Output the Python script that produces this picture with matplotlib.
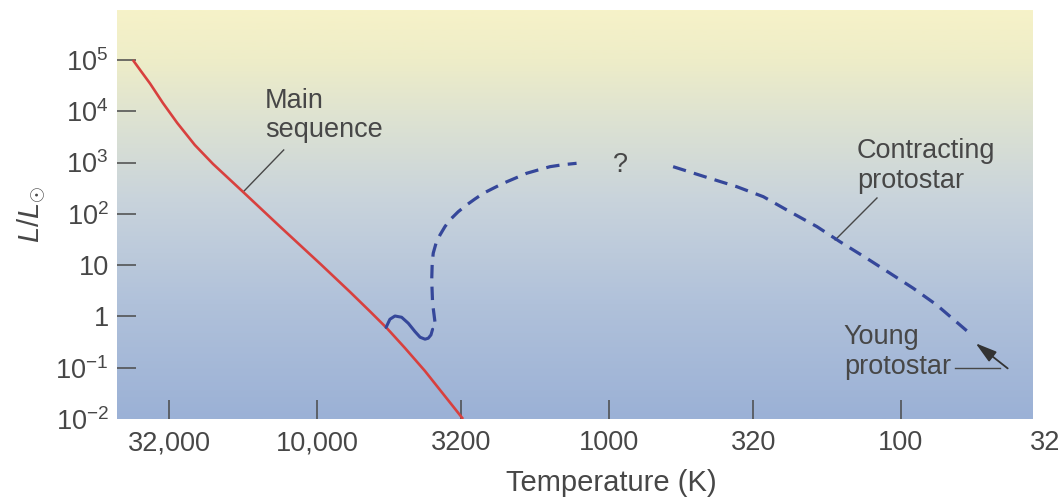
import numpy as np
import matplotlib
matplotlib.use("Agg")
import matplotlib.pyplot as plt
from matplotlib.colors import LinearSegmentedColormap

plt.rcParams['font.family'] = ['Liberation Sans', 'DejaVu Sans']
plt.rcParams['mathtext.fontset'] = 'custom'
plt.rcParams['mathtext.rm'] = 'Liberation Sans'
plt.rcParams['mathtext.it'] = 'Liberation Sans:italic'

# ---- data (temperature in K, luminosity in L/Lsun) ----
main_seq_T = [42700, 40100, 37300, 33700, 30100, 26200, 22700, 17900, 13400, 9690,
              7710, 6580, 5750, 5000, 4270, 3160]
main_seq_L = [1e5, 6.11e4, 3.48e4, 1.45e4, 5920, 2200, 940, 267, 56.8, 10.3,
              3.01, 1.25, 0.583, 0.243, 0.0867, 0.01]

wiggle_T = [5800, 5626, 5407, 5130, 4867, 4616, 4434, 4265, 4158, 4070, 4018]
wiggle_L = [0.61, 0.881, 1.02, 0.964, 0.736, 0.506, 0.393, 0.360, 0.376, 0.436, 0.562]

collapse_T = [3945, 4018, 4046, 4030, 3998, 3911, 3790, 3645, 3505, 3284, 3073, 2877,
              2692, 2489, 2301, 2098, 1914, 1746, 1592, 1434, 1291]
collapse_L = [0.792, 1.81, 5.14, 10.9, 17.1, 26.7, 38.8, 56.4, 76.1, 110, 149, 195,
              252, 316, 395, 494, 618, 718, 832, 910, 968]

contract_T = [603, 463, 365, 296, 240, 194, 162, 131, 109, 90.8, 75.5, 62.8, 57.3]
contract_L = [832, 516, 339, 216, 110, 56.4, 28.8, 13.6, 6.95, 3.55, 1.68, 0.683, 0.436]

x_ticks = [32000, 10000, 3200, 1000, 320, 100]
x_labels = ['32,000', '10,000', '3200', '1000', '320', '100']
extra_x_tick = 32
y_ticks = [1e-2, 1e-1, 1, 10, 1e2, 1e3, 1e4, 1e5]
y_labels = [r'$10^{-2}$', r'$10^{-1}$', '1', '10', r'$10^{2}$', r'$10^{3}$', r'$10^{4}$', r'$10^{5}$']

fig = plt.figure(figsize=(10.63, 5.01), dpi=100)
fig.patch.set_facecolor('white')
ax = fig.add_axes([117/1063, (501-419)/501, (1033-117)/1063, (419-10)/501])

ax.set_xscale('log')
ax.set_yscale('log')
ax.set_xlim(48400, 35.3)
ax.set_ylim(1e-2, 10**5.975)

# background gradient
cmap = LinearSegmentedColormap.from_list('bg', [
    (0.0, '#f6f2c8'), (0.12, '#eeedc8'), (0.27, '#dde2d2'),
    (0.47, '#c8d3dc'), (0.72, '#b0c1da'), (1.0, '#9bb1d6')])
grad = np.linspace(0, 1, 256).reshape(-1, 1)
ax.imshow(grad, cmap=cmap, extent=[0, 1, 0, 1], transform=ax.transAxes,
          aspect='auto', zorder=0, origin='upper')

for s in ax.spines.values():
    s.set_visible(False)

red = '#d8403e'
blue = '#35479a'
ink = '#474747'

ax.plot(main_seq_T, main_seq_L, color=red, lw=1.9, zorder=3, solid_capstyle='butt')
ax.plot(wiggle_T, wiggle_L, color=blue, lw=2.2, zorder=3, solid_capstyle='round')
ax.plot(collapse_T, collapse_L, color=blue, lw=2.3, zorder=3, dashes=(4.2, 2.6))
ax.plot(contract_T, contract_L, color=blue, lw=2.3, zorder=3, dashes=(4.2, 2.6))

ax.set_xticks(x_ticks)
ax.set_xticklabels(x_labels)
ax.xaxis.set_minor_locator(matplotlib.ticker.NullLocator())
ax.set_yticks(y_ticks)
ax.set_yticklabels(y_labels)
ax.yaxis.set_minor_locator(matplotlib.ticker.NullLocator())
ax.tick_params(axis='both', direction='in', length=14, width=1.1, color='#4a4a4a',
               labelsize=19.5, labelcolor=ink)
ax.tick_params(axis='x', pad=8)
ax.tick_params(axis='y', pad=6)
ax.yaxis.get_major_ticks()[0].tick1line.set_visible(False)

ax.text(extra_x_tick, -0.027, '32', transform=ax.get_xaxis_transform(),
        ha='center', va='top', fontsize=19.5, color=ink, clip_on=False)

ax.set_xlabel('Temperature (K)', fontsize=21, color=ink)
ax.xaxis.set_label_coords(0.54, -0.123)
ax.set_ylabel(r'$L/L_{\odot}$', fontsize=21, color=ink)
ax.yaxis.set_label_coords(-0.093, 0.5)
ax.yaxis.label.set_va('center')

# annotations
fs = 19.5
ax.plot([13000, 17900], [1760, 267], color=ink, lw=1.0, zorder=2)
ax.text(15070, 8280, 'Main\nsequence', ha='left', va='center', fontsize=fs,
        color=ink, linespacing=1.18)

ax.plot([120.8, 168], [204, 31], color=ink, lw=1.0, zorder=2)
ax.text(141.6, 860, 'Contracting\nprotostar', ha='left', va='center', fontsize=fs,
        color=ink, linespacing=1.18)

ax.text(916, 897, '?', ha='center', va='center', fontsize=fs, color=ink)

ax.text(157, 0.203, 'Young\nprotostar', ha='left', va='center', fontsize=fs,
        color=ink, linespacing=1.18)
ax.plot([65.3, 45.8], [0.097, 0.097], color=ink, lw=1.0, zorder=2)
ax.annotate('', xy=(55.5, 0.30), xytext=(43.1, 0.097),
            arrowprops=dict(arrowstyle='-|>,head_length=1.3,head_width=0.38',
                            color='#333333', lw=1.3, shrinkA=0, shrinkB=0), zorder=4)

fig.savefig('out.png', dpi=100)
